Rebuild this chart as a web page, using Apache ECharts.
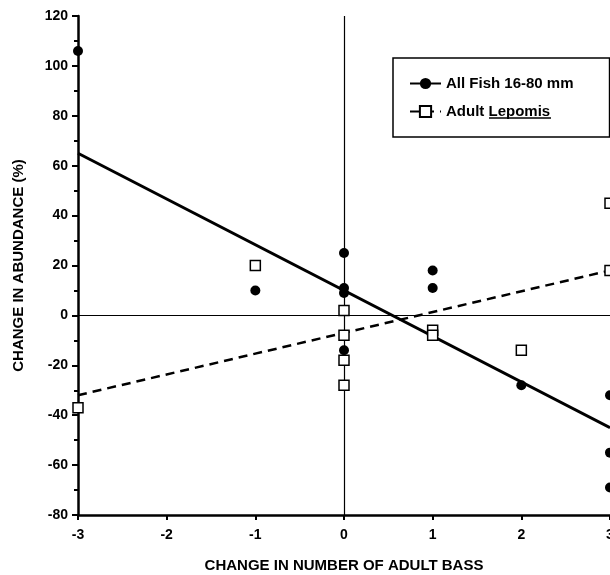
<!DOCTYPE html>
<html>
<head>
<meta charset="utf-8">
<script src="https://cdn.jsdelivr.net/npm/echarts@6/dist/echarts.min.js"></script>
<style>html,body{margin:0;padding:0;background:#fff;}#c{width:610px;height:575px;}</style>
</head>
<body>
<div id="c"></div>
<script>
// Data
var fishX = [-3, -1, 0, 0, 0, 0, 1, 1, 2, 3, 3, 3];
var fishY = [106, 10, 25, 11, 9, -14, 18, 11, -28, -32, -55, -69];
var lepomisX = [-3, -1, 0, 0, 0, 0, 1, 1, 2, 3, 3];
var lepomisY = [-37, 20, 2, -8, -18, -28, -6, -8, -14, 45, 18];
var fishFitX = [-3, 3];
var fishFitY = [65, -45];
var lepomisFitX = [-3, 3];
var lepomisFitY = [-32, 18];
var xTicks = [-3, -2, -1, 0, 1, 2, 3];
var yTicks = [-80, -60, -40, -20, 0, 20, 40, 60, 80, 100, 120];

function pairs(xs, ys) { return xs.map(function (x, i) { return [x, ys[i]]; }); }

var FONT = 'Liberation Sans, Arial, Helvetica, sans-serif';
var chart = echarts.init(document.getElementById('c'));
chart.setOption({
  animation: false,
  backgroundColor: '#fff',
  grid: { left: 78, right: 0, top: 16, bottom: 60, containLabel: false, outerBoundsMode: 'none' },
  legend: {
    orient: 'vertical',
    left: 393, top: 58,
    padding: [18, 36, 18, 16],
    borderColor: '#000', borderWidth: 1.5,
    itemWidth: 31, itemHeight: 14, itemGap: 13,
    data: ['All Fish 16-80 mm', 'Adult Lepomis'],
    textStyle: { fontFamily: FONT, fontSize: 15, fontWeight: 'bold', color: '#000' }
  },
  graphic: [{
    type: 'line', silent: true, z: 100,
    shape: { x1: 489, y1: 118, x2: 551, y2: 118 },
    style: { stroke: '#000', lineWidth: 1.3 }
  }],
  xAxis: {
    type: 'value', min: -3, max: 3, interval: 1,
    name: 'CHANGE IN NUMBER OF ADULT BASS',
    nameLocation: 'middle', nameGap: 43,
    nameTextStyle: { fontFamily: FONT, fontSize: 15, fontWeight: 'bold', color: '#000' },
    axisLine: { onZero: false, lineStyle: { color: '#000', width: 2.5 } },
    axisTick: { show: true, inside: false, length: 5, lineStyle: { color: '#000', width: 2 } },
    axisLabel: { margin: 13, fontFamily: FONT, fontSize: 14, fontWeight: 'bold', color: '#000',
      formatter: function (v) { return xTicks.indexOf(v) >= 0 ? String(v) : ''; } },
    splitLine: { show: false }
  },
  yAxis: {
    type: 'value', min: -80, max: 120, interval: 20,
    name: 'CHANGE IN ABUNDANCE (%)',
    nameLocation: 'middle', nameGap: 52, nameRotate: 90,
    nameTextStyle: { fontFamily: FONT, fontSize: 15, fontWeight: 'bold', color: '#000' },
    axisLine: { onZero: false, lineStyle: { color: '#000', width: 2.5 } },
    axisTick: { show: true, inside: false, length: 6, lineStyle: { color: '#000', width: 2 } },
    minorTick: { show: true, splitNumber: 2, length: 4, lineStyle: { color: '#000', width: 2 } },
    axisLabel: { margin: 10, fontFamily: FONT, fontSize: 14, fontWeight: 'bold', color: '#000',
      formatter: function (v) { return yTicks.indexOf(v) >= 0 ? String(v) : ''; } },
    splitLine: { show: false }
  },
  series: [
    {
      name: 'All Fish 16-80 mm', type: 'line',
      data: pairs(fishFitX, fishFitY),
      symbol: 'circle', symbolSize: 9, showSymbol: false,
      itemStyle: { color: '#000', opacity: 1 },
      lineStyle: { color: '#000', width: 3, type: 'solid' },
      z: 3,
      markLine: {
        silent: true, symbol: 'none', label: { show: false },
        lineStyle: { color: '#000', width: 1.2, type: 'solid' },
        data: [{ xAxis: 0 }, { yAxis: 0 }]
      }
    },
    {
      name: 'Adult Lepomis', type: 'line',
      data: pairs(lepomisFitX, lepomisFitY),
      symbol: 'rect', symbolSize: 10, showSymbol: false,
      itemStyle: { color: '#fff', borderColor: '#000', borderWidth: 1.5, opacity: 1 },
      lineStyle: { color: '#000', width: 2.5, type: [9, 6] },
      z: 3
    },
    {
      name: 'All Fish 16-80 mm', type: 'scatter',
      data: pairs(fishX, fishY),
      symbol: 'circle', symbolSize: 10,
      itemStyle: { color: '#000', opacity: 1 }, z: 4
    },
    {
      name: 'Adult Lepomis', type: 'scatter',
      data: pairs(lepomisX, lepomisY),
      symbol: 'rect', symbolSize: 10,
      itemStyle: { color: '#fff', borderColor: '#000', borderWidth: 1.5, opacity: 1 }, z: 5
    }
  ]
});
</script>
</body>
</html>
